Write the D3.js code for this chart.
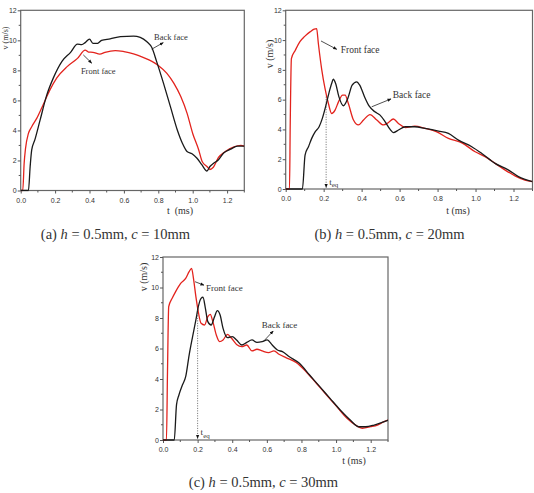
<!DOCTYPE html>
<html>
<head>
<meta charset="utf-8">
<script src="https://cdn.jsdelivr.net/npm/d3@7"></script>
<style>
  body { margin: 0; background: #fff; }
  text { fill: #333; }
</style>
</head>
<body>
<div id="chart"></div>
<script>
// (a) h = 0.5mm, c = 10mm
const aBackT  = [0, 0.045, 0.055, 0.064, 0.083, 0.113, 0.15, 0.19, 0.24, 0.29, 0.33, 0.355, 0.375, 0.40, 0.42, 0.447, 0.47, 0.52, 0.58, 0.656, 0.695, 0.734, 0.763, 0.79, 0.83, 0.87, 0.91, 0.94, 0.967, 0.996, 1.025, 1.054, 1.083, 1.10, 1.12, 1.15, 1.18, 1.22, 1.26, 1.3];
const aBackV  = [0, 0, 1.6, 2.7, 3.4, 4.7, 6.3, 7.5, 8.6, 9.2, 9.75, 9.72, 9.85, 10.08, 9.8, 9.8, 10.0, 10.1, 10.25, 10.28, 10.2, 9.9, 9.5, 8.6, 7.15, 5.6, 4.05, 3.15, 2.6, 2.45, 2.15, 1.7, 1.3, 1.6, 1.8, 2.05, 2.5, 2.75, 2.95, 2.95];
const aFrontT = [0, 0.012, 0.02, 0.028, 0.045, 0.064, 0.093, 0.13, 0.17, 0.21, 0.27, 0.33, 0.375, 0.394, 0.42, 0.46, 0.49, 0.55, 0.6, 0.656, 0.715, 0.763, 0.8, 0.85, 0.89, 0.93, 0.967, 1.0, 1.035, 1.055, 1.083, 1.10, 1.12, 1.15, 1.19, 1.24, 1.28, 1.3];
const aFrontV = [0, 0, 1.8, 2.8, 3.8, 4.25, 4.8, 5.7, 6.7, 7.5, 8.25, 8.8, 9.35, 9.22, 9.2, 9.08, 9.2, 9.32, 9.25, 9.1, 8.85, 8.6, 8.33, 7.8, 7.15, 6.27, 5.15, 3.8, 2.7, 1.93, 1.6, 1.4, 1.55, 2.2, 2.6, 2.9, 3.0, 2.95];

// (b) h = 0.5mm, c = 20mm
const bBackT  = [0, 0.088, 0.102, 0.12, 0.137, 0.155, 0.176, 0.193, 0.21, 0.228, 0.242, 0.251, 0.263, 0.28, 0.304, 0.327, 0.35, 0.374, 0.39, 0.415, 0.44, 0.47, 0.497, 0.524, 0.55, 0.567, 0.594, 0.63, 0.68, 0.734, 0.805, 0.857, 0.91, 0.98, 1.033, 1.103, 1.174, 1.226, 1.3];
const bBackV  = [0, 0, 2.28, 2.84, 3.4, 3.84, 4.18, 4.74, 5.52, 6.46, 7.08, 7.37, 7.08, 6.2, 5.59, 6.08, 6.97, 7.2, 6.97, 6.2, 5.56, 5.18, 4.96, 4.51, 4.0, 3.78, 3.96, 4.18, 4.18, 4.07, 3.89, 3.73, 3.28, 2.84, 2.39, 1.72, 1.27, 0.83, 0.5];
const bFrontT = [0, 0.02, 0.024, 0.03, 0.05, 0.075, 0.1, 0.128, 0.15, 0.163, 0.172, 0.19, 0.207, 0.225, 0.242, 0.26, 0.278, 0.3, 0.313, 0.33, 0.357, 0.383, 0.41, 0.444, 0.48, 0.515, 0.54, 0.567, 0.594, 0.63, 0.68, 0.734, 0.796, 0.857, 0.928, 0.998, 1.05, 1.103, 1.156, 1.21, 1.26, 1.3];
const bFrontV = [0, 0, 4.5, 8.76, 9.3, 9.9, 10.25, 10.55, 10.73, 10.77, 9.77, 8.0, 6.75, 5.74, 5.07, 5.3, 5.85, 6.3, 6.3, 5.74, 4.63, 4.3, 4.63, 5.0, 4.63, 4.3, 4.45, 4.7, 4.4, 4.13, 4.22, 4.07, 3.84, 3.4, 3.1, 2.5, 2.17, 1.72, 1.27, 0.87, 0.6, 0.5];

// (c) h = 0.5mm, c = 30mm
const cBackT  = [0, 0.065, 0.078, 0.092, 0.112, 0.131, 0.151, 0.171, 0.19, 0.204, 0.22, 0.231, 0.245, 0.259, 0.278, 0.298, 0.314, 0.33, 0.347, 0.373, 0.4, 0.425, 0.455, 0.484, 0.514, 0.543, 0.573, 0.602, 0.631, 0.661, 0.69, 0.73, 0.788, 0.847, 0.906, 0.965, 1.024, 1.082, 1.131, 1.171, 1.22, 1.278, 1.3];
const cBackV  = [0, 0, 2.3, 2.95, 3.6, 4.15, 5.57, 6.78, 7.87, 8.74, 9.29, 9.36, 8.63, 7.76, 7.54, 8.09, 8.48, 8.2, 7.32, 6.71, 6.78, 6.56, 6.23, 6.4, 6.56, 6.4, 6.45, 6.56, 6.23, 5.9, 5.79, 5.46, 5.03, 4.26, 3.5, 2.73, 1.97, 1.31, 0.87, 0.87, 0.98, 1.2, 1.3];
const cFrontT = [0, 0.02, 0.026, 0.033, 0.053, 0.073, 0.102, 0.131, 0.151, 0.165, 0.176, 0.19, 0.204, 0.22, 0.24, 0.259, 0.273, 0.288, 0.308, 0.327, 0.347, 0.373, 0.396, 0.425, 0.455, 0.484, 0.514, 0.543, 0.573, 0.61, 0.641, 0.67, 0.71, 0.769, 0.827, 0.886, 0.945, 1.004, 1.063, 1.112, 1.151, 1.2, 1.239, 1.278, 1.3];
const cFrontV = [0, 0, 4.5, 8.74, 9.29, 9.73, 10.27, 10.6, 11.04, 11.26, 10.6, 9.4, 8.4, 7.65, 7.54, 8.09, 8.24, 7.76, 6.88, 6.45, 6.56, 6.93, 6.67, 6.27, 6.12, 6.23, 5.84, 5.95, 5.84, 5.73, 5.84, 5.62, 5.4, 5.09, 4.48, 3.72, 2.95, 2.19, 1.42, 0.98, 0.77, 0.87, 0.98, 1.2, 1.3];

const xTickValues = [0, 0.2, 0.4, 0.6, 0.8, 1.0, 1.2];
const yTickValues = [0, 2, 4, 6, 8, 10, 12];

const width = 534, height = 493;
const svg = d3.select("#chart").append("svg")
  .attr("width", width).attr("height", height)
  .style("background", "#fff");

svg.append("defs").append("marker")
  .attr("id", "arrow")
  .attr("viewBox", "0 0 10 10")
  .attr("refX", 9).attr("refY", 5)
  .attr("markerWidth", 5).attr("markerHeight", 5)
  .attr("orient", "auto")
  .append("path")
  .attr("d", "M0,1 L10,5 L0,9 Z")
  .attr("fill", "#111");

const panels = [
  {
    box: { left: 20.7, right: 244.3, top: 10.3, bottom: 190.5 },
    back: [aBackT, aBackV], front: [aFrontT, aFrontV],
    xLabel: { text: "t  (ms)", x: 180, y: 214 },
    yLabel: { x: 8, y: 38, size: 8 },
    labels: [
      { text: "Back face", t: 0.775, v: 10.0, size: 8.5, arrow: [0.762, 9.41, 0.829, 9.85] },
      { text: "Front face", t: 0.35, v: 7.75, size: 8.5, arrow: [0.364, 9.03, 0.413, 8.48] }
    ],
    teq: null,
    caption: { x: 115.5, y: 239, tag: "(a)", c: "10mm" }
  },
  {
    box: { left: 285.7, right: 532.5, top: 10.3, bottom: 189 },
    back: [bBackT, bBackV], front: [bFrontT, bFrontV],
    xLabel: { text: "t (ms)", x: 458, y: 214 },
    yLabel: { x: 273, y: 54, size: 10 },
    labels: [
      { text: "Front face", t: 0.29, v: 9.1, size: 9.5, arrow: [0.186, 9.94, 0.269, 9.38] },
      { text: "Back face", t: 0.564, v: 6.13, size: 9.5, arrow: [0.453, 5.52, 0.555, 6.05] }
    ],
    teq: { t: 0.213, v: 6.2 },
    caption: { x: 389.5, y: 239, tag: "(b)", c: "20mm" }
  },
  {
    box: { left: 163, right: 388, top: 257, bottom: 440 },
    back: [cBackT, cBackV], front: [cFrontT, cFrontV],
    xLabel: { text: "t (ms)", x: 354, y: 464 },
    yLabel: { x: 147, y: 277, size: 10 },
    labels: [
      { text: "Front face", t: 0.248, v: 9.8, size: 9, arrow: [0.185, 10.38, 0.237, 10.15] },
      { text: "Back face", t: 0.57, v: 7.34, size: 9, arrow: [0.579, 6.45, 0.637, 7.15] }
    ],
    teq: { t: 0.2, v: 8.5 },
    caption: { x: 263.5, y: 487, tag: "(c)", c: "30mm" }
  }
];

panels.forEach(p => {
  const b = p.box;
  const x = d3.scaleLinear().domain([0, 1.3]).range([b.left, b.right]);
  const y = d3.scaleLinear().domain([0, 12]).range([b.bottom, b.top]);
  const g = svg.append("g");

  // frame
  g.append("rect")
    .attr("x", b.left).attr("y", b.top)
    .attr("width", b.right - b.left).attr("height", b.bottom - b.top)
    .attr("fill", "none").attr("stroke", "#666").attr("stroke-width", 1.2);

  // minor ticks
  g.selectAll(".xminor").data(d3.range(0.1, 1.31, 0.2)).enter().append("line")
    .attr("x1", d => x(d)).attr("x2", d => x(d))
    .attr("y1", b.bottom).attr("y2", b.bottom + 2)
    .attr("stroke", "#555");
  g.selectAll(".yminor").data(d3.range(1, 12, 2)).enter().append("line")
    .attr("x1", b.left - 2).attr("x2", b.left)
    .attr("y1", d => y(d)).attr("y2", d => y(d))
    .attr("stroke", "#555");

  // axes
  g.append("g")
    .attr("transform", `translate(0,${b.bottom})`)
    .call(d3.axisBottom(x).tickValues(xTickValues).tickFormat(d3.format(".1f")).tickSize(3).tickSizeOuter(0))
    .call(a => a.select(".domain").remove())
    .call(a => a.selectAll("line").attr("stroke", "#555"))
    .call(a => a.selectAll("text").attr("fill", "#444").attr("font-family", "Liberation Sans, Arial, sans-serif").attr("font-size", 7).attr("dy", "0.9em"));

  g.append("g")
    .attr("transform", `translate(${b.left},0)`)
    .call(d3.axisLeft(y).tickValues(yTickValues).tickSize(3).tickSizeOuter(0))
    .call(a => a.select(".domain").remove())
    .call(a => a.selectAll("line").attr("stroke", "#555"))
    .call(a => a.selectAll("text").attr("fill", "#444").attr("font-family", "Liberation Sans, Arial, sans-serif").attr("font-size", 7).attr("x", -4));

  // axis titles
  g.append("text")
    .attr("x", p.xLabel.x).attr("y", p.xLabel.y)
    .attr("text-anchor", "middle")
    .attr("font-family", "Liberation Serif, serif").attr("font-size", 10)
    .style("white-space", "pre")
    .text(p.xLabel.text);
  g.append("text")
    .attr("transform", `translate(${p.yLabel.x},${p.yLabel.y}) rotate(-90)`)
    .attr("text-anchor", "middle")
    .attr("font-family", "Liberation Serif, serif").attr("font-size", p.yLabel.size)
    .text("v (m/s)");

  // curves
  const line = d3.line()
    .x(d => x(d[0])).y(d => y(d[1]))
    .curve(d3.curveMonotoneX);
  const clip = "clip" + Math.round(b.left);
  svg.select("defs").append("clipPath").attr("id", clip)
    .append("rect").attr("x", b.left).attr("y", b.top)
    .attr("width", b.right - b.left).attr("height", b.bottom - b.top + 1);

  [[p.front, "#e3231d"], [p.back, "#1a1a1a"]].forEach(([s, col]) => {
    g.append("path")
      .datum(d3.zip(s[0], s[1]))
      .attr("clip-path", `url(#${clip})`)
      .attr("fill", "none").attr("stroke", col).attr("stroke-width", 1.3)
      .attr("d", line);
  });

  // annotations
  p.labels.forEach(l => {
    g.append("line")
      .attr("x1", x(l.arrow[0])).attr("y1", y(l.arrow[1]))
      .attr("x2", x(l.arrow[2])).attr("y2", y(l.arrow[3]))
      .attr("stroke", "#222").attr("stroke-width", 0.8)
      .attr("marker-end", "url(#arrow)");
    g.append("text")
      .attr("x", x(l.t)).attr("y", y(l.v))
      .attr("font-family", "Liberation Serif, serif").attr("font-size", l.size)
      .attr("fill", "#222")
      .text(l.text);
  });

  if (p.teq) {
    g.append("line")
      .attr("x1", x(p.teq.t)).attr("x2", x(p.teq.t))
      .attr("y1", y(p.teq.v)).attr("y2", y(0.1))
      .attr("stroke", "#444").attr("stroke-width", 0.8)
      .attr("stroke-dasharray", "1,1.5")
      .attr("marker-end", "url(#arrow)");
    const tt = g.append("text")
      .attr("x", x(p.teq.t) + 3).attr("y", y(0.3))
      .attr("font-family", "Liberation Serif, serif").attr("font-size", 9)
      .attr("fill", "#222");
    tt.append("tspan").text("t");
    tt.append("tspan").attr("dy", 2.5).attr("font-size", 7).text("eq");
  }

  // caption
  const cap = svg.append("text")
    .attr("x", p.caption.x).attr("y", p.caption.y)
    .attr("text-anchor", "middle")
    .attr("font-family", "Liberation Serif, serif").attr("font-size", 14.5)
    .attr("fill", "#111");
  cap.append("tspan").text(p.caption.tag + " ");
  cap.append("tspan").attr("font-style", "italic").text("h");
  cap.append("tspan").text(" = 0.5mm, ");
  cap.append("tspan").attr("font-style", "italic").text("c");
  cap.append("tspan").text(" = " + p.caption.c);
});
</script>
</body>
</html>
